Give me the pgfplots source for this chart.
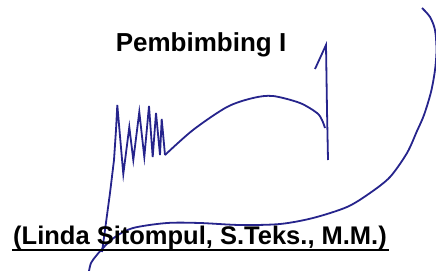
\documentclass[border=0pt]{standalone}
\usepackage{fontspec}
\setmainfont{Liberation Sans}
\usepackage{pgfplots}
\pgfplotsset{compat=1.18}
\definecolor{ink}{RGB}{38,36,140}
\begin{document}
\begin{tikzpicture}
\begin{axis}[
  width=436bp, height=271bp, scale only axis,
  xmin=0, xmax=436, ymin=0, ymax=271, y dir=reverse,
  axis lines=none, clip=true,
]
\addplot[draw=none] coordinates {(0,0) (436,271)};
% long up stroke + zigzag
\addplot[ink, line width=1.8bp, sharp plot] coordinates {
 (102,252) (105,230) (110,193) (114,160) (116,130) (117.3,105)
 (123.3,174) (129.3,127) (133.3,160) (139.3,112) (144.3,157) (149,106)
 (152.7,157) (156,113) (160,155) (161.7,119) (165,155)
};
% arc to the right
\addplot[ink, line width=1.8bp, smooth] coordinates {
 (165,155) (193,130) (227,107) (253,98) (273,96) (300,103) (317,113) (322,120) (325,128)
};
% vertical stroke with tick
\addplot[ink, line width=1.8bp, sharp plot] coordinates {
 (328,160) (327,110) (326,45) (315,69)
};
% big loop
\addplot[ink, line width=1.8bp, smooth] coordinates {
 (422,8) (430,17) (435,30) (436.5,50) (435,70) (431,92) (424,115) (417,131)
 (407,153) (390,177) (370,193) (347,207) (313,218) (280,224) (240,225)
 (200,223) (167,223) (133,228) (115,237) (103,248) (96,256) (91,263) (89,271)
};
\addplot[black, line width=2bp] coordinates {(12,250) (389,250)};
\node[anchor=base, inner sep=0pt, font=\fontsize{26bp}{30bp}\selectfont\bfseries] at (axis cs:201,51) {Pembimbing I};
\node[anchor=base, inner sep=0pt, font=\fontsize{25.5bp}{30bp}\selectfont\bfseries] at (axis cs:200,244.5) {(Linda Sitompul, S.Teks., M.M.)};
\end{axis}
\end{tikzpicture}
\end{document}
